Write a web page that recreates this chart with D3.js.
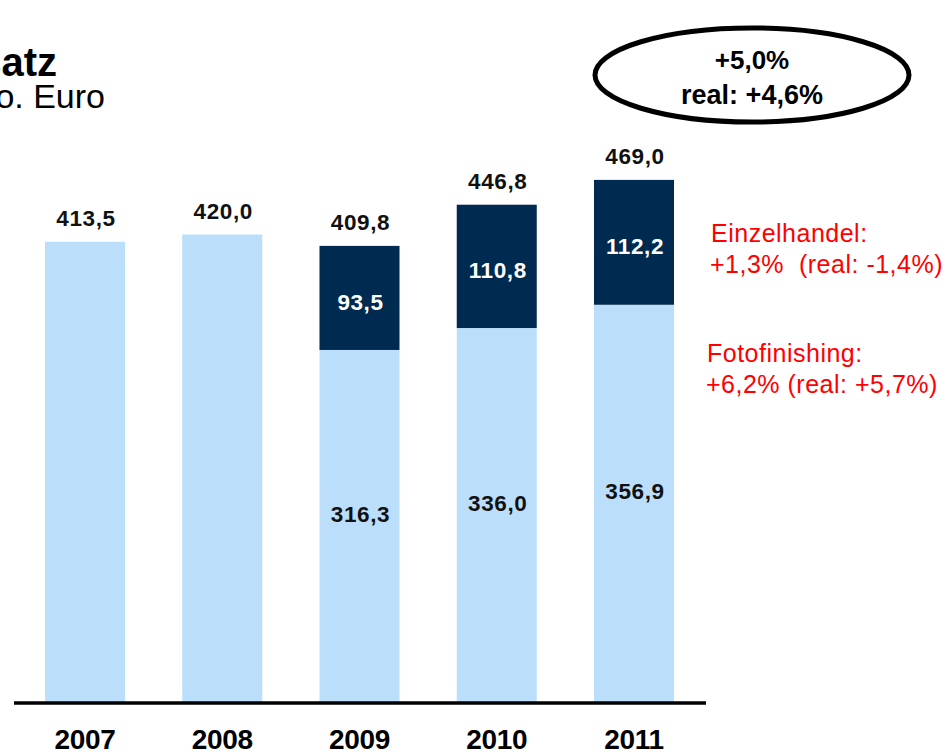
<!DOCTYPE html>
<html><head><meta charset="utf-8">
<script src="https://cdn.jsdelivr.net/npm/d3@7"></script>
<style>
html,body{margin:0;padding:0;background:#fff;}
svg{display:block;font-family:"Liberation Sans",Arial,sans-serif;}
</style></head>
<body>
<script>
const years = ["2007","2008","2009","2010","2011"];
const fotofinishing = [413.5, 420.0, 316.3, 336.0, 356.9];
const einzelhandel = [null, null, 93.5, 110.8, 112.2];
const totals = [413.5, 420.0, 409.8, 446.8, 469.0];
const fmt = v => v.toFixed(1).replace(".", ",");

const W = 947, H = 754;
const svg = d3.select("body").append("svg").attr("width", W).attr("height", H);

const x = d3.scaleBand().domain(years).range([45, 674]).paddingInner(0.417).paddingOuter(0);
const y = d3.scaleLinear().domain([0, 469]).range([702, 180]);
const LIGHT = "#bbdffb", DARK = "#002a50";

const g = svg.append("g");
g.selectAll("rect.ff").data(years).join("rect").attr("class","ff")
  .attr("x", d => x(d)).attr("width", x.bandwidth())
  .attr("y", (d,i) => y(fotofinishing[i])).attr("height", (d,i) => y(0) - y(fotofinishing[i]))
  .attr("fill", LIGHT);
const stacked = years.filter((d,i)=>einzelhandel[i]!=null);
g.selectAll("rect.eh").data(stacked).join("rect").attr("class","eh")
  .attr("x", d => x(d)).attr("width", x.bandwidth())
  .attr("y", d => { const i = years.indexOf(d); return y(fotofinishing[i] + einzelhandel[i]); })
  .attr("height", d => { const i = years.indexOf(d); return y(fotofinishing[i]) - y(fotofinishing[i] + einzelhandel[i]); })
  .attr("fill", DARK);

// baseline axis
const axis = d3.axisBottom(x).tickSize(0).tickPadding(0).tickFormat("");
const ax = svg.append("g").attr("transform", "translate(0,703)").call(axis);
ax.select(".domain").remove();
svg.append("line").attr("x1", 14).attr("x2", 706).attr("y1", 703).attr("y2", 703)
  .attr("stroke", "#000").attr("stroke-width", 3.5);

// year labels
svg.selectAll("text.yr").data(years).join("text").attr("class","yr")
  .attr("x", d => x(d) + x.bandwidth()/2).attr("y", 749)
  .attr("text-anchor","middle").attr("font-weight","bold").attr("font-size", 28)
  .attr("letter-spacing", -0.3).text(d => d);

const lblStyle = sel => sel.attr("text-anchor","middle").attr("font-weight","bold")
  .attr("font-size", 22.5).attr("letter-spacing", 0.6);

// total labels
svg.selectAll("text.tot").data(years).join("text").attr("class","tot")
  .attr("x", d => x(d) + x.bandwidth()/2 + 1)
  .attr("y", (d,i) => y(totals[i]) - 16)
  .call(lblStyle).attr("fill","#111").text((d,i) => fmt(totals[i]));

// inner dark labels
svg.selectAll("text.ehl").data(stacked).join("text").attr("class","ehl")
  .attr("x", d => x(d) + x.bandwidth()/2 + 1)
  .attr("y", d => { const i = years.indexOf(d); return y(fotofinishing[i] + einzelhandel[i]/2) + 12; })
  .call(lblStyle).attr("fill","#fff").text(d => fmt(einzelhandel[years.indexOf(d)]));

// inner light labels
svg.selectAll("text.ffl").data(stacked).join("text").attr("class","ffl")
  .attr("x", d => x(d) + x.bandwidth()/2 + 1)
  .attr("y", d => { const i = years.indexOf(d); return y(fotofinishing[i]/2) - 4; })
  .call(lblStyle).attr("fill","#111").text(d => fmt(fotofinishing[years.indexOf(d)]));

// title (cut at the left edge as in the source)
svg.append("text").attr("x", 57).attr("y", 76).attr("text-anchor","end")
  .attr("font-weight","bold").attr("font-size", 40).text("Umsatz");
svg.append("text").attr("x", 105).attr("y", 108).attr("text-anchor","end")
  .attr("font-size", 34).text("Mio. Euro");

// ellipse
svg.append("ellipse").attr("cx", 752).attr("cy", 75).attr("rx", 157).attr("ry", 47)
  .attr("fill","#fff").attr("stroke","#000").attr("stroke-width", 5);
svg.append("text").attr("x", 752).attr("y", 69).attr("text-anchor","middle")
  .attr("font-weight","bold").attr("font-size", 26).text("+5,0%");
svg.append("text").attr("x", 752).attr("y", 104).attr("text-anchor","middle")
  .attr("font-weight","bold").attr("font-size", 27).text("real: +4,6%");

// red annotations
const red = [
  {t:"Einzelhandel:", x:711, y:242},
  {t:"+1,3%  (real: -1,4%)", x:710, y:273},
  {t:"Fotofinishing:", x:707, y:362},
  {t:"+6,2% (real: +5,7%)", x:706, y:393}
];
svg.selectAll("text.red").data(red).join("text").attr("class","red")
  .attr("x", d => d.x).attr("y", d => d.y).attr("fill","#ff0000")
  .attr("font-size", 25).attr("letter-spacing", 0.5)
  .style("white-space","pre").text(d => d.t);
</script>
</body></html>
